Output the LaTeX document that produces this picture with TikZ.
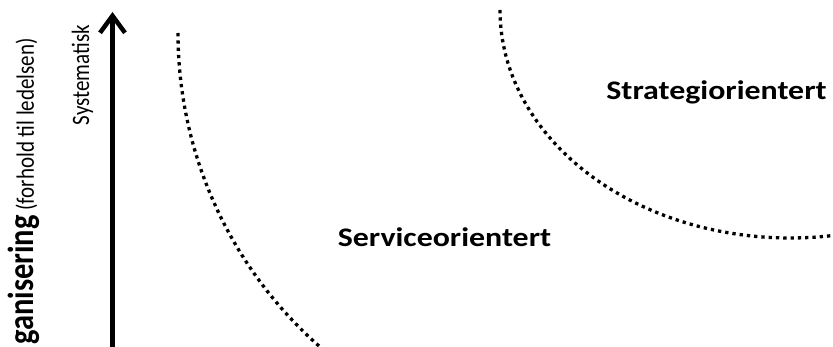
\documentclass[tikz,border=0pt]{standalone}
\usepackage{fontspec}
\setmainfont{Carlito}
\usetikzlibrary{arrows.meta}
\begin{document}
\begin{tikzpicture}[x=1pt,y=-1pt,
  curvedots/.style={line width=3.3pt, dash pattern=on 3.3pt off 4pt, line cap=butt},
  region/.style={font=\fontsize{26.8}{30}\selectfont\bfseries, inner sep=0pt, anchor=base, xscale=1.19},
  axislabel/.style={inner sep=0pt, xscale=1.19, rotate=90, font=\fontsize{21}{24}\selectfont},
  axisarrow/.style={line width=4.5pt, -{Straight Barb[length=17pt,width=25pt]}},
]
\clip (0,0) rectangle (833,347);
\fill[white] (0,0) rectangle (833,347);
% vertical axis
\coordinate (abot) at (112.5,355);
\coordinate (atop) at (112.5,12);
\draw[axisarrow] (abot) -- (atop);
% labels
\coordinate (syspos) at (89,75);
\node[axislabel, anchor=base] (sys) at (syspos) {Systematisk};
\coordinate (labpos) at (34,38);
\node[axislabel, anchor=base east] (org) at (labpos) {{\fontsize{30.5}{34}\selectfont\bfseries ganisering} (forhold til ledelsen)};
% dotted boundaries
\draw[curvedots] plot[domain=180:127, samples=90] ({596+418*cos(\x)}, {33+418*sin(\x)});
\draw[curvedots] plot[domain=180:70, samples=110] ({790+290*cos(\x)}, {10+228*sin(\x)});
% regions
\coordinate (strpos) at (716.5,100);
\node[region] (strat) at (strpos) {Strategiorientert};
\coordinate (serpos) at (444.5,246.7);
\node[region] (serv) at (serpos) {Serviceorientert};
\end{tikzpicture}
\end{document}
